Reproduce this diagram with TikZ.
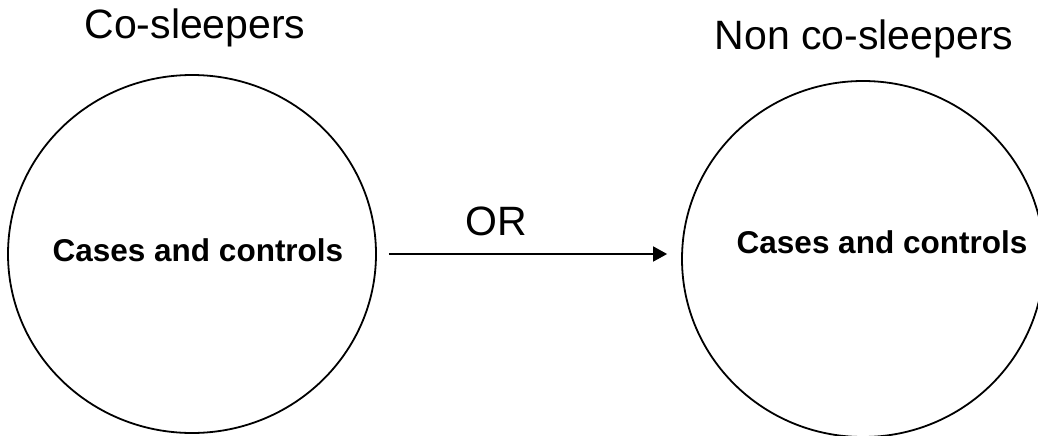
\documentclass[tikz,border=0pt]{standalone}
\usepackage{fontspec}
\setmainfont{Liberation Sans}
\usetikzlibrary{arrows.meta,shapes.geometric}
\newcommand{\grouplabel}{\fontsize{41}{48}\selectfont}
\newcommand{\innerlabel}{\fontsize{31.5}{38}\selectfont\bfseries}

\begin{document}
\begin{tikzpicture}[x=1pt,y=-1pt,>={Triangle[length=14pt,width=15pt]},
 group/.style={draw,ellipse,line width=1.8pt,inner sep=0pt},
 txt/.style={anchor=base,inner sep=0pt}]
 \clip (0,0) rectangle (1038,436);
 \node[group,minimum width=368pt,minimum height=358pt] (cosl) at (192,254) {};
 \node[group,minimum width=362pt,minimum height=356pt] (noncosl) at (863,259) {};
 \node[txt] (coslhead) at (195,39) {\grouplabel Co-sleepers};
 \node[txt] (noncoslhead) at (864,49) {\grouplabel Non co-sleepers};
 \node[txt] (cosltext) at (198,261) {\innerlabel Cases and controls};
 \node[txt] (noncosltext) at (882,253) {\innerlabel Cases and controls};
 \draw[->,line width=1.8pt,shorten <=12pt,shorten >=14pt] (cosl.east) -- (cosl.east -| noncosl.west);
 \node[txt] (ortext) at (496,235) {\grouplabel OR};
\end{tikzpicture}
\end{document}
